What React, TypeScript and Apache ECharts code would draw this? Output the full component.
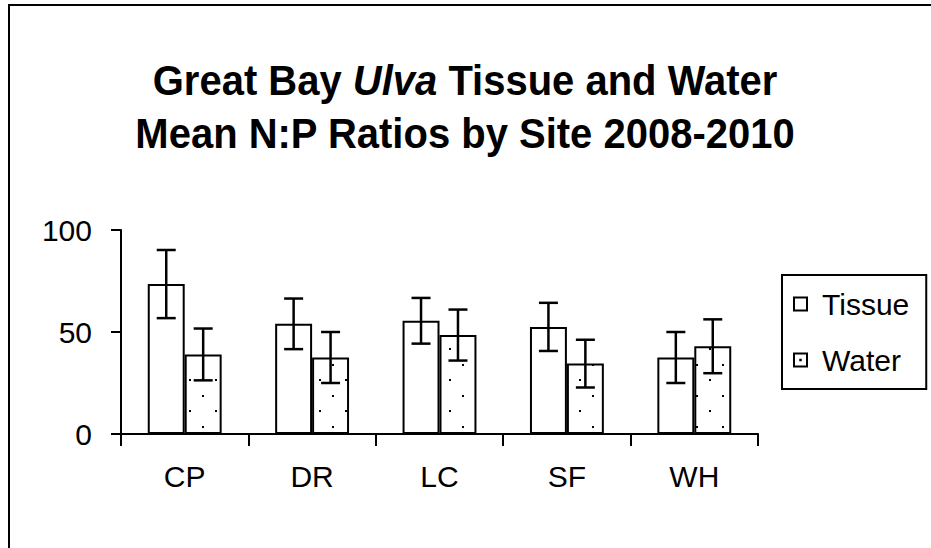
import React, { useEffect, useRef } from "react";
import * as echarts from "echarts";

const categories = ["CP", "DR", "LC", "SF", "WH"];
const tissueMean = [73.5, 54, 55.5, 52.5, 37.5];
const tissueErr = [16.7, 12.4, 11.2, 11.8, 12.5];
const waterMean = [39, 37.5, 48.5, 34.5, 43];
const waterErr = [12.7, 12.5, 12.5, 11.7, 13.2];
const yTicks = [0, 50, 100];

const FONT = "'Liberation Sans', Arial, sans-serif";
const GAP = 0.42;

function makePattern() {
  const c = document.createElement("canvas");
  c.width = 26;
  c.height = 31;
  const ctx = c.getContext("2d")!;
  ctx.fillStyle = "#fff";
  ctx.fillRect(0, 0, 26, 31);
  ctx.fillStyle = "#000";
  ctx.fillRect(7, 7, 2, 2);
  ctx.fillRect(20, 23, 2, 2);
  return c;
}

function errRender(side: number) {
  return (params: any, api: any) => {
    const idx = api.value(0);
    const mean = api.value(1);
    const err = api.value(2);
    const top = api.coord([idx, mean + err]);
    const bot = api.coord([idx, mean - err]);
    const catW = api.size([1, 0])[0];
    const barW = (catW * (1 - GAP)) / 2;
    const x = top[0] + (side * barW) / 2;
    const cap = 9.5;
    const style = { stroke: "#000", lineWidth: 2.5 };
    return {
      type: "group",
      children: [
        { type: "line", shape: { x1: x, y1: top[1], x2: x, y2: bot[1] }, style },
        { type: "line", shape: { x1: x - cap, y1: top[1], x2: x + cap, y2: top[1] }, style },
        { type: "line", shape: { x1: x - cap, y1: bot[1], x2: x + cap, y2: bot[1] }, style },
      ],
    };
  };
}

export default function App() {
  const ref = useRef<HTMLDivElement>(null);
  useEffect(() => {
    if (!ref.current) return;
    const chart = echarts.init(ref.current, undefined, { renderer: "svg" });
    const pattern = makePattern();
    const boxPath = "path://M0,0H12V12H0Z M1.6,1.6V10.4H10.4V1.6Z";
    const dotPath = "path://M0,0H12V12H0Z M1.6,1.6V10.4H10.4V1.6Z M5,5H7V7H5Z";
    const titleFont = 43;
    const rich = {
      b: { fontFamily: FONT, fontSize: titleFont, fontWeight: "bold", fill: "#000" },
      i: { fontFamily: FONT, fontSize: titleFont, fontWeight: "bold", fontStyle: "italic", fill: "#000" },
    };
    chart.setOption({
      animation: false,
      backgroundColor: "#fff",
      textStyle: { fontFamily: FONT },
      legend: {
        orient: "vertical",
        left: 782,
        top: 275,
        padding: [13, 17, 13, 11],
        borderColor: "#000",
        borderWidth: 2,
        borderRadius: 0,
        itemWidth: 15,
        itemHeight: 15,
        itemGap: 24,
        textStyle: { fontFamily: FONT, fontSize: 30, color: "#000", lineHeight: 32, padding: [0, 0, 0, 9] },
        data: [
          { name: "Tissue", icon: boxPath, itemStyle: { color: "#000", borderWidth: 0 } },
          { name: "Water", icon: dotPath, itemStyle: { color: "#000", borderWidth: 0 } },
        ],
      },
      grid: { left: 121, right: 173, top: 230, bottom: 114, containLabel: false },
      xAxis: {
        type: "category",
        data: categories,
        axisLine: { lineStyle: { color: "#000", width: 2 } },
        axisTick: { show: true, length: 12, lineStyle: { color: "#000", width: 2 } },
        axisLabel: { color: "#000", fontSize: 30, fontFamily: FONT, margin: 27 },
        splitLine: { show: false },
      },
      yAxis: {
        type: "value",
        min: yTicks[0],
        max: yTicks[yTicks.length - 1],
        interval: 50,
        axisLine: { show: true, lineStyle: { color: "#000", width: 2 } },
        axisTick: { show: true, length: 10, lineStyle: { color: "#000", width: 2 } },
        axisLabel: { color: "#000", fontSize: 30, fontFamily: FONT, margin: 29 },
        splitLine: { show: false },
      },
      graphic: [
        {
          type: "rect",
          shape: { x: 9, y: 5, width: 1000, height: 1000 },
          style: { fill: "none", stroke: "#000", lineWidth: 2 },
          z: 100,
          silent: true,
        },
        {
          type: "text",
          x: 465,
          y: 80,
          scaleX: 0.93,
          style: {
            text: "{b|Great Bay }{i|Ulva}{b| Tissue and Water}",
            rich,
            font: `bold ${titleFont}px ${FONT}`,
            fill: "#000",
            align: "center",
            verticalAlign: "middle",
          },
        },
        {
          type: "text",
          x: 465,
          y: 133,
          scaleX: 0.93,
          style: {
            text: "Mean N:P Ratios by Site 2008-2010",
            font: `bold ${titleFont}px ${FONT}`,
            fill: "#000",
            align: "center",
            verticalAlign: "middle",
          },
        },
      ],
      series: [
        {
          name: "Tissue",
          type: "bar",
          data: tissueMean,
          barGap: "0%",
          barCategoryGap: GAP * 100 + "%",
          itemStyle: { color: "#fff", borderColor: "#000", borderWidth: 2 },
        },
        {
          name: "Water",
          type: "bar",
          data: waterMean,
          barGap: "0%",
          barCategoryGap: GAP * 100 + "%",
          itemStyle: { color: { image: pattern, repeat: "repeat" }, borderColor: "#000", borderWidth: 2 },
        },
        {
          name: "TissueErr",
          type: "custom",
          z: 5,
          renderItem: errRender(-1),
          data: tissueMean.map((m, i) => [i, m, tissueErr[i]]),
        },
        {
          name: "WaterErr",
          type: "custom",
          z: 5,
          renderItem: errRender(1),
          data: waterMean.map((m, i) => [i, m, waterErr[i]]),
        },
      ],
    });
    return () => chart.dispose();
  }, []);
  return (
    <div
      ref={ref}
      style={{ position: "fixed", left: 0, top: 0, width: 931, height: 548, background: "#fff" }}
    />
  );
}
